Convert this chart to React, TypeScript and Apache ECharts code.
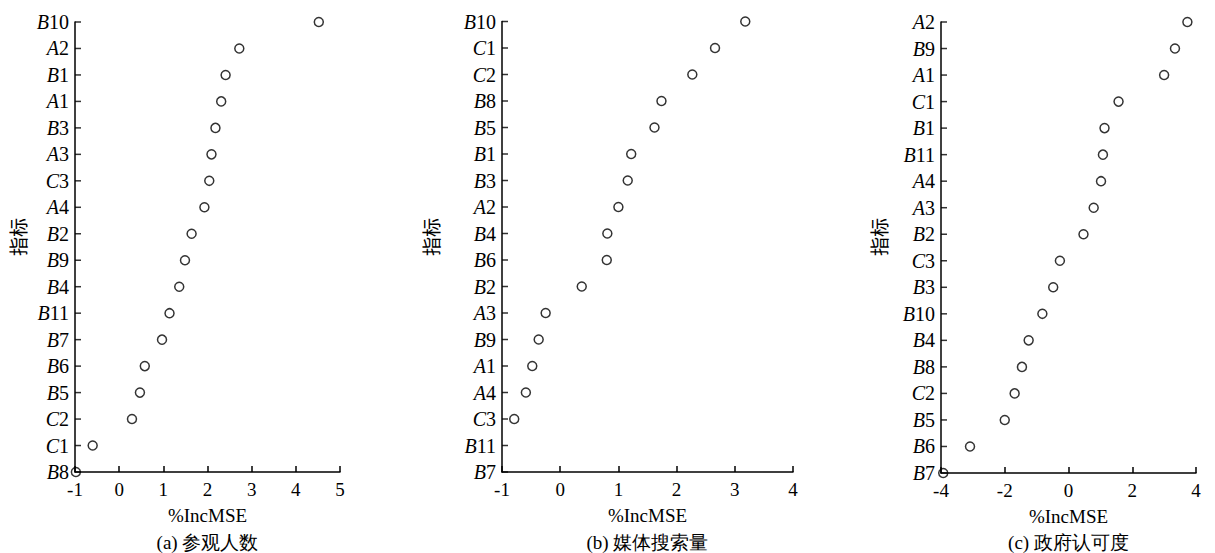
import React, { useEffect, useRef } from "react";
import * as echarts from "echarts";

const catsA = ["B10", "A2", "B1", "A1", "B3", "A3", "C3", "A4", "B2", "B9", "B4", "B11", "B7", "B6", "B5", "C2", "C1", "B8"];
const valsA = [4.52, 2.72, 2.41, 2.31, 2.18, 2.09, 2.04, 1.93, 1.64, 1.49, 1.36, 1.14, 0.97, 0.58, 0.47, 0.29, -0.6, -0.98];

const catsB = ["B10", "C1", "C2", "B8", "B5", "B1", "B3", "A2", "B4", "B6", "B2", "A3", "B9", "A1", "A4", "C3", "B11", "B7"];
const valsB: (number | null)[] = [3.18, 2.66, 2.27, 1.74, 1.62, 1.22, 1.16, 1.0, 0.81, 0.8, 0.37, -0.25, -0.37, -0.48, -0.59, -0.79, null, null];

const catsC = ["A2", "B9", "A1", "C1", "B1", "B11", "A4", "A3", "B2", "C3", "B3", "B10", "B4", "B8", "C2", "B5", "B6", "B7"];
const valsC = [3.73, 3.34, 3.0, 1.57, 1.13, 1.08, 1.02, 0.79, 0.47, -0.27, -0.48, -0.82, -1.25, -1.46, -1.69, -2.0, -3.09, -3.93];

const xRanges = [
  { min: -1, max: 5, interval: 1 },
  { min: -1, max: 4, interval: 1 },
  { min: -4, max: 4, interval: 2 },
];
const xName = "%IncMSE";
const yName = "指标";
const subtitles = ["(a) 参观人数", "(b) 媒体搜索量", "(c) 政府认可度"];

const SERIF = "Liberation Serif";
const CJK = "Noto Sans CJK SC";

const grids = [
  { left: 75, top: 22, width: 265, height: 450 },
  { left: 502, top: 21.5, width: 291, height: 450.5 },
  { left: 941, top: 22, width: 255, height: 451 },
];
const yNameX = [17, 430, 878];

export default function App() {
  const ref = useRef<HTMLDivElement>(null);
  useEffect(() => {
    if (!ref.current) return;
    const chart = echarts.init(ref.current, null, { renderer: "svg" });
    const cats = [catsA, catsB, catsC];
    const vals = [valsA, valsB, valsC];
    const lineStyle = { color: "#000", width: 1.5 };
    const option: any = {
      animation: false,
      backgroundColor: "#fff",
      grid: grids.map((g) => ({ ...g, containLabel: false })),
      xAxis: xRanges.map((r, i) => ({
        type: "value",
        gridIndex: i,
        position: "bottom",
        min: r.min,
        max: r.max,
        interval: r.interval,
        axisLine: { show: true, onZero: false, lineStyle },
        axisTick: { show: true, inside: true, length: 6, lineStyle },
        splitLine: { show: false },
        axisLabel: { color: "#000", fontFamily: SERIF, fontSize: 19, margin: 8 },
        name: xName,
        nameLocation: "middle",
        nameGap: 34,
        nameTextStyle: { color: "#000", fontFamily: SERIF, fontSize: 19 },
      })),
      yAxis: cats.map((c, i) => ({
        type: "value",
        gridIndex: i,
        position: "left",
        min: 0,
        max: c.length - 1,
        interval: 1,
        inverse: true,
        axisLine: { show: true, onZero: false, lineStyle },
        axisTick: { show: false },
        splitLine: { show: false },
        axisLabel: {
          margin: 6,
          showMinLabel: true,
          showMaxLabel: true,
          formatter: (v: number) => {
            const s = c[Math.round(v)] || "";
            return `{i|${s[0]}}{n|${s.slice(1)}}`;
          },
          rich: {
            i: { fontFamily: SERIF, fontStyle: "italic", fontSize: 20, color: "#000" },
            n: { fontFamily: SERIF, fontSize: 20, color: "#000" },
          },
        },
      })),
      series: [
        // tick marks along the left axis, one per category row
        ...cats.map((c, i) => ({
          type: "scatter",
          xAxisIndex: i,
          yAxisIndex: i,
          symbol: "rect",
          symbolSize: [6, 1.5],
          symbolOffset: [3, 0],
          silent: true,
          clip: false,
          z: 1,
          itemStyle: { color: "#000" },
          data: c.map((_, j) => [xRanges[i].min, j]),
        })),
        ...vals.map((v, i) => ({
          type: "scatter",
          xAxisIndex: i,
          yAxisIndex: i,
          symbol: "circle",
          symbolSize: 9,
          clip: false,
          z: 3,
          itemStyle: { color: "rgba(255,255,255,0)", borderColor: "#000", borderWidth: 1.5 },
          data: v
            .map((x, j) => (x === null ? null : [x, j]))
            .filter((d) => d !== null),
        })),
      ],
      graphic: [
        ...yNameX.map((x) => ({
          type: "text",
          x,
          y: 237,
          rotation: Math.PI / 2,
          style: {
            text: yName,
            fontFamily: CJK,
            fontSize: 19,
            fill: "#000",
            align: "center",
            verticalAlign: "middle",
          },
        })),
        ...subtitles.map((t, i) => ({
          type: "text",
          x: grids[i].left + grids[i].width / 2,
          y: 542,
          style: {
            text: t,
            fontFamily: SERIF,
            fontSize: 19,
            fill: "#000",
            align: "center",
            verticalAlign: "middle",
          },
        })),
      ],
    };
    chart.setOption(option);
    return () => chart.dispose();
  }, []);
  return (
    <div
      ref={ref}
      style={{ position: "absolute", left: 0, top: 0, width: 1215, height: 553, background: "#fff" }}
    />
  );
}
